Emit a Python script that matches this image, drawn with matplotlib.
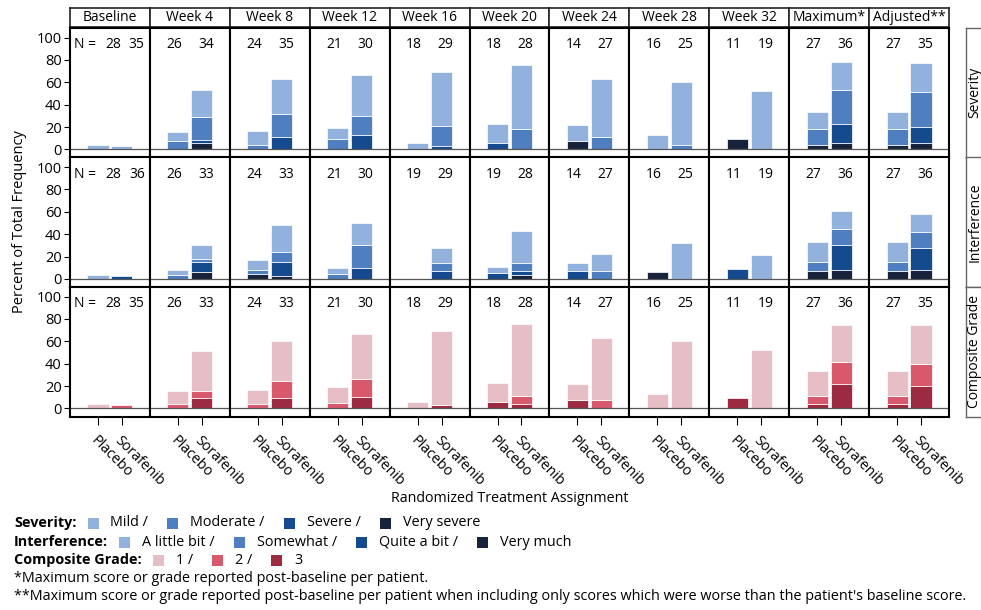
import numpy as np
import matplotlib
matplotlib.use("Agg")
from matplotlib import pyplot as plt
from matplotlib.patches import Rectangle
from matplotlib.transforms import ScaledTranslation

plt.rcParams['font.family'] = ['Open Sans', 'DejaVu Sans']

## Dati

periodi = ["Baseline", "Week 4", "Week 8", "Week 12", "Week 16", "Week 20",
           "Week 24", "Week 28", "Week 32", "Maximum*", "Adjusted**"]
bracci = ["Placebo", "Sorafenib"]
righe = ["Severity", "Interference", "Composite Grade"]

# N per braccio
n_sev_placebo = [28, 26, 24, 21, 18, 18, 14, 16, 11, 27, 27]
n_sev_sora = [35, 34, 35, 30, 29, 28, 27, 25, 19, 36, 35]
n_int_placebo = [28, 26, 24, 21, 19, 19, 14, 16, 11, 27, 27]
n_int_sora = [36, 33, 33, 30, 29, 28, 27, 25, 19, 36, 36]
n_comp_placebo = [28, 26, 24, 21, 18, 18, 14, 16, 11, 27, 27]
n_comp_sora = [35, 33, 33, 30, 29, 28, 27, 25, 19, 36, 35]

# percentuali per segmento, dal basso: Very severe, Severe, Moderate, Mild
sev_placebo = [[0, 0, 0, 3.6], [0, 0, 7.7, 7.7], [0, 0, 4.2, 12.5], [0, 0, 9.5, 9.5],
               [0, 0, 0, 5.6], [0, 5.6, 0, 16.7], [7.1, 0, 0, 14.3], [0, 0, 0, 12.5],
               [9.1, 0, 0, 0], [3.7, 0, 14.8, 14.8], [3.7, 0, 14.8, 14.8]]
sev_sora = [[0, 0, 0, 2.9], [5.9, 2.9, 20.6, 23.5], [0, 11.4, 20.0, 31.4], [0, 13.3, 16.7, 36.7],
            [0, 3.4, 17.2, 48.3], [0, 0, 17.9, 57.1], [0, 0, 11.1, 51.9], [0, 0, 4.0, 56.0],
            [0, 0, 0, 52.6], [5.6, 16.7, 30.6, 25.0], [5.7, 14.3, 31.4, 25.7]]

# dal basso: Very much, Quite a bit, Somewhat, A little bit
int_placebo = [[0, 0, 0, 3.6], [0, 0, 3.8, 3.8], [4.2, 0, 4.2, 8.3], [0, 0, 4.8, 4.8],
               [0, 0, 0, 0], [0, 5.3, 0, 5.3], [0, 7.1, 0, 7.1], [6.2, 0, 0, 0],
               [0, 9.1, 0, 0], [7.4, 0, 7.4, 18.5], [7.4, 0, 7.4, 18.5]]
int_sora = [[0, 2.8, 0, 0], [6.1, 9.1, 3.0, 12.1], [3.0, 12.1, 9.1, 24.2], [0, 10.0, 20.0, 20.0],
            [0, 6.9, 6.9, 13.8], [3.6, 3.6, 7.1, 28.6], [0, 0, 7.4, 14.8], [0, 0, 0, 32.0],
            [0, 0, 0, 21.1], [8.3, 22.2, 13.9, 16.7], [8.3, 19.4, 13.9, 16.7]]

# dal basso: grado 3, 2, 1
comp_placebo = [[0, 0, 3.6], [0, 3.8, 11.5], [0, 4.2, 12.5], [0, 4.8, 14.3],
                [0, 0, 5.6], [5.6, 0, 16.7], [7.1, 0, 14.3], [0, 0, 12.5],
                [9.1, 0, 0], [3.7, 7.4, 22.2], [3.7, 7.4, 22.2]]
comp_sora = [[0, 2.9, 0], [9.1, 6.1, 36.4], [9.1, 15.2, 36.4], [10.0, 16.7, 40.0],
             [3.4, 0, 65.5], [3.6, 7.1, 64.3], [0, 7.4, 55.6], [0, 0, 60.0],
             [0, 0, 52.6], [22.2, 19.4, 33.3], [20.0, 20.0, 34.3]]

blu = ["#16233b", "#164a8f", "#4f7fc0", "#92b1dc"]
rossi = ["#9c2a40", "#d8586c", "#e6bfc6"]

dati = [(sev_placebo, sev_sora, n_sev_placebo, n_sev_sora, blu),
        (int_placebo, int_sora, n_int_placebo, n_int_sora, blu),
        (comp_placebo, comp_sora, n_comp_placebo, n_comp_sora, rossi)]

## Figura

W, H = 981, 610
fig = plt.figure(figsize=(W / 100, H / 100), dpi=100)

def box(x0, y0, x1, y1):
    # pixel (dall'alto) -> coordinate figura
    return [x0 / W, 1 - y1 / H, (x1 - x0) / W, (y1 - y0) / H]

x_left, x_right = 70, 949
col_w = (x_right - x_left) / len(periodi)
row_y = [28, 157.5, 287, 416.5]

# strisce in alto
for j, nome in enumerate(periodi):
    ax = fig.add_axes(box(x_left + j * col_w, 8, x_left + (j + 1) * col_w, 27))
    ax.set_xticks([])
    ax.set_yticks([])
    for s in ax.spines.values():
        s.set_linewidth(1.2)
        s.set_color("#222222")
    ax.text(0.5, 0.5, nome, ha="center", va="center", fontsize=10, transform=ax.transAxes)

# strisce a destra
for i, nome in enumerate(righe):
    ax = fig.add_axes(box(966, row_y[i], 995, row_y[i + 1]))
    ax.set_xticks([])
    ax.set_yticks([])
    for s in ax.spines.values():
        s.set_linewidth(1.0)
        s.set_color("#666666")
    ax.text(0.3, 0.5, nome, ha="center", va="center", rotation=90, fontsize=10,
            transform=ax.transAxes)

sposta = ScaledTranslation(-0.05, 0, fig.dpi_scale_trans)  # etichette un po' a sinistra

xpos = np.array([0, 1])
for i, (pl, so, npl, nso, colori) in enumerate(dati):
    for j in range(len(periodi)):
        ax = fig.add_axes(box(x_left + j * col_w, row_y[i], x_left + (j + 1) * col_w, row_y[i + 1]))
        ax.set_xlim(-1.167, 2.167)
        ax.set_ylim(-7.2, 108.5)
        for k, valori in enumerate([pl[j], so[j]]):
            base = 0
            for v, c in zip(valori, colori):
                if v > 0:
                    ax.bar(xpos[k], v, bottom=base, width=0.88, color=c,
                           edgecolor="white", linewidth=0.5)
                base += v
        ax.axhline(0, color="#555555", lw=0.9)
        if j == 0:
            ax.text(-1.02, 93.5, "N =", ha="left", va="center", fontsize=10)
            ax.text(0.62, 93.5, str(npl[j]), ha="center", va="center", fontsize=10)
            ax.text(1.62, 93.5, str(nso[j]), ha="center", va="center", fontsize=10)
            ax.set_yticks([0, 20, 40, 60, 80, 100])
            ax.tick_params(axis="y", labelsize=10.5, length=4, pad=2)
        else:
            ax.text(-0.14, 93.5, str(npl[j]), ha="center", va="center", fontsize=10)
            ax.text(1.17, 93.5, str(nso[j]), ha="center", va="center", fontsize=10)
            ax.set_yticks([])
        if i == 2:
            ax.set_xticks(xpos)
            ax.set_xticklabels(bracci, rotation=-45, ha="left", va="center",
                               rotation_mode="anchor", fontsize=10.3)
            ax.tick_params(axis="x", length=6, pad=10)
            for lab in ax.get_xticklabels():
                lab.set_transform(lab.get_transform() + sposta)
        else:
            ax.set_xticks([])
        for s in ax.spines.values():
            s.set_linewidth(1.5)

fig.text(20 / W, 1 - 222 / H, "Percent of Total Frequency", rotation=90,
         ha="center", va="center", fontsize=10.5)
fig.text((x_left + x_right) / 2 / W, 1 - 498 / H, "Randomized Treatment Assignment",
         ha="center", va="center", fontsize=10.3)

## Legenda

renderer = fig.canvas.get_renderer()
fs_leg = 10.4

def riga_legenda(y, titolo, voci, colori):
    x = 14
    t = fig.text(x / W, 1 - y / H, titolo, ha="left", va="center", fontsize=fs_leg, weight="bold")
    x = t.get_window_extent(renderer).x1 + 11
    for n, (voce, c) in enumerate(zip(voci, colori)):
        fig.patches.append(Rectangle((x / W, 1 - (y + 5.5) / H), 11 / W, 11 / H,
                                     facecolor=c, edgecolor="none",
                                     transform=fig.transFigure, figure=fig))
        x += 11 + 12
        testo = voce + (" /" if n < len(voci) - 1 else "")
        t = fig.text(x / W, 1 - y / H, testo, ha="left", va="center", fontsize=fs_leg)
        x = t.get_window_extent(renderer).x1 + 19

riga_legenda(523, "Severity:", ["Mild", "Moderate", "Severe", "Very severe"], blu[::-1])
riga_legenda(542, "Interference:", ["A little bit", "Somewhat", "Quite a bit", "Very much"], blu[::-1])
riga_legenda(560, "Composite Grade:", ["1", "2", "3"], rossi[::-1])
fig.text(14 / W, 1 - 578 / H, "*Maximum score or grade reported post-baseline per patient.",
         ha="left", va="center", fontsize=fs_leg)
fig.text(14 / W, 1 - 597 / H, "**Maximum score or grade reported post-baseline per patient when "
         "including only scores which were worse than the patient's baseline score.",
         ha="left", va="center", fontsize=fs_leg)

fig.savefig("out.png", dpi=100)
